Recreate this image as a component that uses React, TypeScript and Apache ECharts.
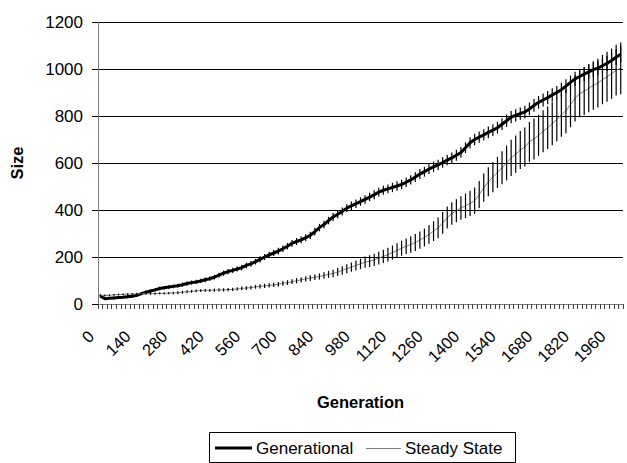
import React, { useEffect, useRef } from "react";
import * as echarts from "echarts";

// Categories: generation numbers (one category every 17.5 generations, labels every 8th)
const generations: string[] = Array.from({ length: 115 }, (_, i) => String(i * 17.5));
const tickLabels = ["0", "140", "280", "420", "560", "700", "840", "980", "1120", "1260", "1400", "1540", "1680", "1820", "1960"];
const yTicks = [0, 200, 400, 600, 800, 1000, 1200];
const seriesNames = ["Generational", "Steady State"];

const generational = [
  34, 22, 24, 26, 28, 29, 31, 33, 37, 44,
  50, 55, 60, 66, 69, 72, 75, 78, 82, 87,
  91, 94, 98, 103, 108, 114, 123, 131, 138, 143,
  149, 155, 164, 171, 180, 190, 200, 209, 217, 225,
  235, 246, 258, 266, 273, 282, 292, 308, 325, 338,
  355, 370, 382, 394, 408, 418, 427, 436, 445, 455,
  465, 476, 484, 490, 496, 502, 509, 518, 528, 540,
  553, 563, 574, 584, 592, 602, 612, 622, 633, 645,
  665, 686, 700, 710, 720, 730, 740, 750, 765, 780,
  795, 803, 810, 817, 830, 845, 858, 868, 878, 890,
  900, 912, 927, 943, 958, 968, 978, 988, 997, 1004,
  1014, 1024, 1036, 1050, 1063,
];

const generationalErr = [
  5, 5, 5, 6, 6, 6, 6, 6, 7, 7,
  7, 7, 7, 8, 8, 8, 8, 8, 9, 9,
  9, 9, 9, 10, 10, 10, 10, 11, 11, 11,
  11, 12, 12, 12, 12, 13, 13, 13, 13, 14,
  14, 14, 14, 15, 15, 15, 15, 16, 16, 16,
  16, 17, 17, 17, 17, 18, 18, 18, 18, 18,
  19, 19, 19, 19, 20, 20, 20, 20, 20, 21,
  21, 21, 21, 22, 22, 22, 22, 23, 23, 23,
  23, 24, 24, 24, 24, 25, 25, 25, 25, 26,
  26, 26, 26, 27, 27, 27, 27, 28, 28, 28,
  28, 29, 29, 29, 30, 30, 30, 31, 31, 31,
  32, 32, 33, 33, 34,
];

const steadyState = [
  38, 36, 37, 39, 40, 41, 42, 43, 43, 43,
  44, 44, 44, 45, 45, 46, 47, 48, 50, 52,
  54, 56, 57, 58, 58, 59, 60, 60, 61, 62,
  64, 66, 68, 70, 73, 75, 77, 79, 81, 84,
  88, 91, 95, 99, 103, 107, 110, 114, 117, 121,
  126, 130, 136, 143, 150, 157, 164, 171, 178, 182,
  188, 195, 203, 210, 219, 228, 237, 246, 253, 262,
  272, 283, 296, 310, 324, 345, 368, 385, 397, 408,
  418, 428, 440, 465, 495, 520, 540, 560, 580, 600,
  622, 638, 655, 668, 690, 702, 718, 735, 750, 767,
  785, 805, 822, 848, 875, 895, 905, 918, 930, 940,
  955, 967, 980, 995, 1003,
];

const steadyStateErr = [
  4, 4, 4, 4, 4, 4, 4, 4, 5, 5,
  5, 5, 5, 5, 5, 5, 5, 6, 6, 6,
  6, 6, 6, 6, 6, 7, 7, 7, 7, 7,
  7, 8, 8, 8, 8, 9, 9, 9, 9, 10,
  10, 10, 10, 11, 11, 11, 12, 12, 13, 14,
  15, 16, 17, 18, 19, 20, 21, 22, 24, 25,
  26, 27, 28, 29, 30, 31, 32, 33, 35, 36,
  37, 38, 40, 42, 44, 46, 47, 48, 49, 50,
  52, 54, 56, 58, 60, 62, 64, 66, 70, 74,
  77, 79, 81, 83, 85, 87, 88, 89, 90, 91,
  92, 93, 95, 96, 98, 100, 101, 102, 103, 104,
  105, 106, 107, 108, 110,
];

const FONT = "'Liberation Sans', Arial, sans-serif";

function errData(vals: number[], errs: number[]) {
  return vals.map((v, i) => [i, v - errs[i], v + errs[i]]);
}

const renderErr = (params: any, api: any) => {
  const i = api.value(0);
  const lo = api.coord([i, api.value(1)]);
  const hi = api.coord([i, api.value(2)]);
  return {
    type: "line",
    shape: { x1: lo[0], y1: lo[1], x2: hi[0], y2: hi[1] },
    style: { stroke: "#000", lineWidth: 1.2 },
  };
};

export default function App() {
  const ref = useRef<HTMLDivElement>(null);
  useEffect(() => {
    if (!ref.current) return;
    const chart = echarts.init(ref.current, undefined, { renderer: "svg" });
    chart.setOption({
      animation: false,
      backgroundColor: "#fff",
      textStyle: { fontFamily: FONT },
      grid: { left: 97, right: 4, top: 22, bottom: 159, containLabel: false },
      graphic: [
        {
          type: "rect",
          shape: { x: 209.5, y: 432.5, width: 306, height: 30 },
          style: { fill: "#fff", stroke: "#000", lineWidth: 1 },
          z: 10,
        },
        {
          type: "line",
          shape: { x1: 215, y1: 448, x2: 252, y2: 448 },
          style: { stroke: "#000", lineWidth: 3 },
          z: 11,
        },
        {
          type: "text",
          x: 256,
          y: 448,
          style: { text: seriesNames[0], fontFamily: FONT, fontSize: 17, fill: "#000", verticalAlign: "middle", align: "left" },
          z: 11,
        },
        {
          type: "line",
          shape: { x1: 366, y1: 448.5, x2: 401, y2: 448.5 },
          style: { stroke: "#808080", lineWidth: 1 },
          z: 11,
        },
        {
          type: "text",
          x: 405,
          y: 448,
          style: { text: seriesNames[1], fontFamily: FONT, fontSize: 17, fill: "#000", verticalAlign: "middle", align: "left" },
          z: 11,
        },
      ],
      xAxis: {
        type: "category",
        data: generations,
        boundaryGap: true,
        name: "Generation",
        nameLocation: "middle",
        nameGap: 89,
        nameTextStyle: { fontFamily: FONT, fontSize: 16.5, fontWeight: "bold", color: "#000" },
        axisLine: { show: true, lineStyle: { color: "#808080", width: 1 } },
        axisTick: { show: true, interval: 0, length: 5, alignWithLabel: false, lineStyle: { color: "#404040" } },
        axisLabel: {
          interval: 7,
          rotate: 45,
          margin: 20,
          padding: [0, 13, 0, 0],
          fontFamily: FONT,
          fontSize: 16.5,
          color: "#000",
          formatter: (v: string, idx: number) => (idx % 8 === 0 ? tickLabels[idx / 8] ?? v : ""),
        },
        splitLine: { show: false },
      },
      yAxis: {
        type: "value",
        min: yTicks[0],
        max: yTicks[yTicks.length - 1],
        interval: 200,
        name: "Size",
        nameLocation: "middle",
        nameGap: 73,
        nameRotate: 90,
        nameTextStyle: { fontFamily: FONT, fontSize: 16.5, fontWeight: "bold", color: "#000" },
        axisLine: { show: true, lineStyle: { color: "#808080", width: 1 } },
        axisTick: { show: true, length: 6, lineStyle: { color: "#000" } },
        axisLabel: {
          margin: 15,
          fontFamily: FONT,
          fontSize: 17,
          color: "#000",
          formatter: (v: number) => String(v),
        },
        splitLine: { show: true, lineStyle: { color: "#000", width: 1 } },
      },
      series: [
        {
          name: seriesNames[0],
          type: "line",
          data: generational,
          showSymbol: false,
          symbol: "none",
          lineStyle: { color: "#000", width: 3 },
          itemStyle: { color: "#000" },
          z: 3,
        },
        {
          name: "GenErr",
          type: "custom",
          data: errData(generational, generationalErr),
          encode: { x: 0, y: [1, 2] },
          renderItem: renderErr,
          z: 4,
          silent: true,
        },
        {
          name: seriesNames[1],
          type: "line",
          data: steadyState,
          showSymbol: false,
          symbol: "none",
          lineStyle: { color: "#808080", width: 1 },
          itemStyle: { color: "#808080" },
          z: 3,
        },
        {
          name: "SteadyErr",
          type: "custom",
          data: errData(steadyState, steadyStateErr),
          encode: { x: 0, y: [1, 2] },
          renderItem: renderErr,
          z: 4,
          silent: true,
        },
      ],
    });
    return () => chart.dispose();
  }, []);
  return (
    <div
      ref={ref}
      style={{ position: "fixed", left: 0, top: 0, width: 627, height: 463, background: "#fff" }}
    />
  );
}
